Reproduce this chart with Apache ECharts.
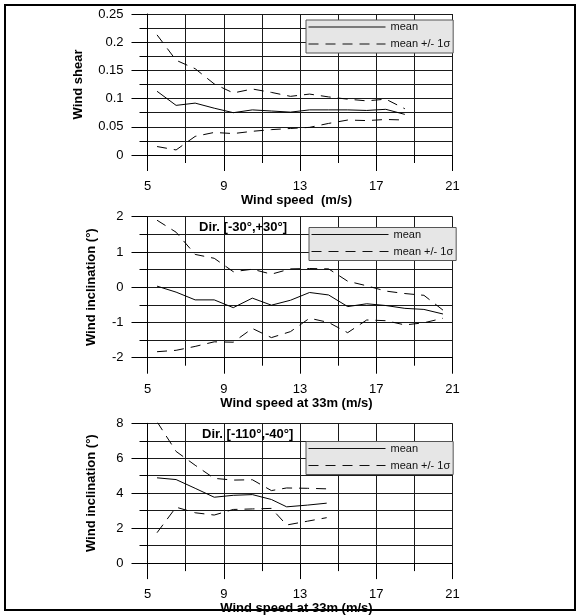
<!DOCTYPE html>
<html>
<head>
<meta charset="utf-8">
<title>Wind shear / inclination</title>
<script src="https://cdn.jsdelivr.net/npm/echarts@6/dist/echarts.min.js"></script>
<style>
  html, body { margin: 0; padding: 0; background: #fff; }
  #chart { width: 583px; height: 616px; }
</style>
</head>
<body>
<div id="chart"></div>
<script>
// ---- data ----
// top: wind shear vs wind speed
const shearSpeed = [5.5, 6.5, 7.5, 8.5, 9.5, 10.5, 11.5, 12.5, 13.5, 14.5, 15.5, 16.5, 17.5, 18.5]
const shearMean  = [0.113, 0.088, 0.092, 0.083, 0.075, 0.080, 0.078, 0.076, 0.080, 0.080, 0.080, 0.079, 0.081, 0.072]
const shearUpper = [0.213, 0.168, 0.153, 0.126, 0.110, 0.117, 0.111, 0.104, 0.108, 0.103, 0.099, 0.096, 0.099, 0.082]
const shearLower = [0.015, 0.009, 0.033, 0.040, 0.038, 0.042, 0.045, 0.047, 0.049, 0.056, 0.062, 0.061, 0.063, 0.062]

// middle: wind inclination, Dir. [-30,+30]
const incSpeed = [5.5, 6.5, 7.5, 8.5, 9.5, 10.5, 11.5, 12.5, 13.5, 14.5, 15.5, 16.5, 17.5, 18.5, 19.5, 20.5]
const incMean  = [0.03, -0.14, -0.36, -0.36, -0.58, -0.31, -0.51, -0.37, -0.15, -0.22, -0.55, -0.47, -0.52, -0.60, -0.63, -0.76]
const incUpper = [1.90, 1.56, 0.93, 0.82, 0.44, 0.51, 0.37, 0.52, 0.53, 0.52, 0.17, 0.04, -0.11, -0.18, -0.23, -0.65]
const incLower = [-1.83, -1.79, -1.68, -1.55, -1.56, -1.17, -1.43, -1.26, -0.88, -1.00, -1.29, -0.93, -0.95, -1.07, -1.01, -0.88]

// bottom: wind inclination, Dir. [-110,-40]
const devSpeed = [5.5, 6.5, 7.5, 8.5, 9.5, 10.5, 11.5, 12.3, 13.4, 14.4]
const devMean  = [4.88, 4.78, 4.28, 3.77, 3.88, 3.92, 3.64, 3.22, 3.32, 3.43]
const devUpper = [8.09, 6.39, 5.60, 4.85, 4.75, 4.77, 4.15, 4.30, 4.28, 4.25]
const devLower = [1.74, 3.20, 2.88, 2.75, 3.07, 3.10, 3.13, 2.18, 2.40, 2.60]

const legendNames = ['mean', 'mean +/- 1σ']
const speedMin = 5, speedMax = 21, speedStep = 4

const FONT = 'Liberation Sans'
const GRIDCOLOR = '#1a1a1a'
const zip = (xs, ys) => xs.map((x, i) => [x, ys[i]])

// one x axis per panel
function makeX (gridIndex, title, nameGap) {
  return {
    type: 'value', gridIndex,
    min: speedMin, max: speedMax, interval: speedStep,
    name: title, nameLocation: 'middle', nameGap,
    nameTextStyle: { fontFamily: FONT, fontSize: 13, fontWeight: 'bold', color: '#000', padding: [0, 7, 0, 0] },
    axisLine: { show: true, onZero: false, lineStyle: { color: '#000', width: 1 } },
    axisTick: { show: true, length: 16, lineStyle: { color: '#000' } },
    minorTick: { show: true, splitNumber: 2, length: 8, lineStyle: { color: '#000' } },
    axisLabel: { margin: 25, fontFamily: FONT, fontSize: 13, color: '#000' },
    splitLine: { show: true, lineStyle: { color: GRIDCOLOR, width: 1 } },
    minorSplitLine: { show: true, lineStyle: { color: GRIDCOLOR, width: 1 } }
  }
}

// y axis per panel
function makeY (gridIndex, title, min, max, interval, nameGap) {
  return {
    type: 'value', gridIndex, min, max, interval,
    name: title, nameLocation: 'middle', nameGap,
    nameTextStyle: { fontFamily: FONT, fontSize: 13, fontWeight: 'bold', color: '#000' },
    axisLine: { show: true, onZero: false, lineStyle: { color: '#000', width: 1 } },
    axisTick: { show: true, length: 16, lineStyle: { color: '#000' } },
    minorTick: { show: true, splitNumber: 2, length: 8, lineStyle: { color: '#000' } },
    axisLabel: { margin: 24, fontFamily: FONT, fontSize: 13, color: '#000' },
    splitLine: { show: true, lineStyle: { color: GRIDCOLOR, width: 1 } },
    minorSplitLine: { show: true, lineStyle: { color: GRIDCOLOR, width: 1 } }
  }
}

function makeSeries (idx, name, xs, ys, dashed) {
  return {
    type: 'line', name, xAxisIndex: idx, yAxisIndex: idx,
    data: zip(xs, ys),
    symbol: 'none', silent: true,
    lineStyle: { color: '#000', width: 1, type: dashed ? [10, 7] : 'solid' },
    itemStyle: { color: '#000' }
  }
}

function makeLegend (left, top) {
  return {
    data: legendNames, orient: 'vertical', left, top,
    selectedMode: false,
    itemWidth: 77, itemHeight: 12, itemGap: 5,
    padding: [1, 3, 3, 2],
    backgroundColor: '#e6e6e6', borderColor: '#555', borderWidth: 1,
    // hide the marker dot, keep only the line
    itemStyle: { color: 'transparent', borderWidth: 0, opacity: 0 },
    lineStyle: { width: 1, color: '#111' },
    textStyle: { fontFamily: FONT, fontSize: 11, color: '#111', lineHeight: 12 }
  }
}

const chart = echarts.init(document.getElementById('chart'))
chart.setOption({
  animation: false,
  textStyle: { fontFamily: FONT },
  grid: [
    { left: 147.5, top: 14, width: 305, height: 141 },
    { left: 147.5, top: 216.7, width: 305, height: 141 },
    { left: 147.5, top: 423.3, width: 305, height: 140.7 }
  ],
  xAxis: [
    makeX(0, 'Wind speed  (m/s)', 32),
    makeX(1, 'Wind speed at 33m (m/s)', 31),
    makeX(2, 'Wind speed at 33m (m/s)', 29)
  ],
  yAxis: [
    makeY(0, 'Wind shear', 0, 0.25, 0.05, 63),
    makeY(1, 'Wind inclination (°)', -2, 2, 1, 50),
    makeY(2, 'Wind inclination (°)', 0, 8, 2, 50)
  ],
  legend: [
    makeLegend(306, 20),
    makeLegend(309, 227.5),
    makeLegend(306, 441.5)
  ],
  series: [
    makeSeries(0, legendNames[0], shearSpeed, shearMean, false),
    makeSeries(0, legendNames[1], shearSpeed, shearUpper, true),
    makeSeries(0, legendNames[1], shearSpeed, shearLower, true),
    makeSeries(1, legendNames[0], incSpeed, incMean, false),
    makeSeries(1, legendNames[1], incSpeed, incUpper, true),
    makeSeries(1, legendNames[1], incSpeed, incLower, true),
    makeSeries(2, legendNames[0], devSpeed, devMean, false),
    makeSeries(2, legendNames[1], devSpeed, devUpper, true),
    makeSeries(2, legendNames[1], devSpeed, devLower, true)
  ],
  graphic: [
    // outer frame
    { type: 'rect', shape: { x: 5, y: 5, width: 570, height: 605 }, style: { fill: 'none', stroke: '#000', lineWidth: 2 }, z: 10 },
    { type: 'text', x: 199, y: 227.3, z: 10, style: { text: 'Dir. [-30°,+30°]', font: 'bold 13px "Liberation Sans"', fill: '#000', verticalAlign: 'middle' } },
    { type: 'text', x: 202, y: 434, z: 10, style: { text: 'Dir. [-110°,-40°]', font: 'bold 13px "Liberation Sans"', fill: '#000', verticalAlign: 'middle' } }
  ]
})
</script>
</body>
</html>
